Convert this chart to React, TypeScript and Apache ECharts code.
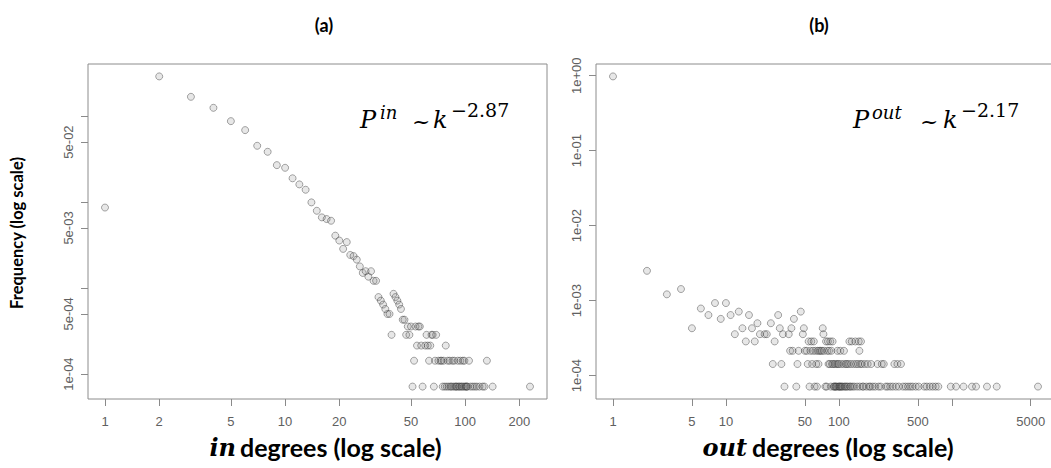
import React, { useEffect, useRef } from "react";
import * as echarts from "echarts";

// Number of nodes used to turn counts into frequencies
const TOTAL_NODES = 14000;

// (a) in-degree k, number of nodes with that in-degree
const IN_DEGREE_COUNTS: [number, number][] = [
  [1, 121], [2, 4060], [3, 2350], [4, 1750], [5, 1225], [6, 963], [7, 633], [8, 539], [9, 377], [10, 351],
  [11, 265], [12, 225], [13, 195], [14, 139], [15, 111], [16, 93], [17, 89], [18, 85], [19, 57], [20, 50],
  [21, 40], [22, 48], [23, 34], [24, 33], [25, 30], [26, 25], [27, 21], [28, 22], [29, 19], [30, 22],
  [31, 17], [32, 17], [33, 11], [34, 10], [35, 9], [36, 8], [37, 7], [38, 7], [39, 4], [40, 12],
  [41, 11], [42, 10], [43, 9], [44, 8], [45, 6], [46, 6], [47, 4], [48, 5], [49, 4], [50, 5],
  [51, 1], [52, 2], [53, 5], [54, 3], [55, 5], [56, 5], [57, 3], [58, 1], [60, 3], [61, 4],
  [62, 3], [63, 2], [64, 3], [65, 4], [66, 4], [67, 1], [68, 2], [69, 4], [71, 2], [73, 2],
  [74, 2], [75, 1], [76, 2], [77, 1], [78, 3], [79, 1], [80, 2], [81, 1], [82, 2], [83, 1],
  [84, 1], [85, 2], [86, 1], [87, 2], [88, 1], [89, 1], [90, 1], [91, 2], [92, 1], [93, 1],
  [94, 2], [95, 1], [96, 1], [97, 2], [98, 1], [99, 2], [100, 1], [101, 1], [102, 1], [103, 1],
  [105, 2], [107, 1], [110, 1], [113, 1], [116, 1], [120, 1], [125, 1], [128, 1], [132, 2], [142, 1],
  [229, 1],
];

// (b) out-degree k, number of nodes with that out-degree
const OUT_DEGREE_COUNTS: [number, number][] = [
  [1, 13700], [2, 35], [3, 17], [4, 20], [5, 6], [6, 11], [7, 9], [8, 13], [9, 8], [10, 13],
  [11, 9], [12, 5], [13, 10], [14, 6], [15, 4], [16, 9], [17, 6], [18, 4], [19, 7], [20, 5],
  [22, 5], [23, 5], [25, 7], [26, 2], [27, 4], [29, 9], [30, 6], [31, 2], [32, 5], [33, 1],
  [36, 5], [37, 3], [38, 6], [39, 3], [40, 8], [42, 1], [43, 2], [44, 3], [46, 10], [48, 5],
  [49, 6], [50, 3], [52, 3], [53, 2], [54, 4], [55, 1], [56, 3], [57, 4], [58, 2], [59, 3],
  [60, 4], [61, 1], [62, 3], [63, 2], [64, 1], [65, 3], [66, 2], [67, 3], [69, 3], [71, 3],
  [72, 6], [73, 5], [74, 3], [76, 1], [77, 4], [78, 1], [79, 3], [80, 4], [81, 2], [82, 3],
  [83, 2], [84, 4], [85, 1], [86, 3], [87, 2], [88, 4], [89, 2], [90, 1], [91, 1], [92, 2],
  [93, 1], [94, 1], [95, 2], [96, 1], [97, 3], [98, 2], [99, 1], [100, 2], [101, 1], [102, 1],
  [103, 3], [104, 1], [105, 2], [106, 1], [108, 1], [110, 2], [111, 3], [112, 1], [114, 1], [115, 2],
  [117, 1], [118, 2], [120, 1], [122, 2], [124, 4], [125, 1], [127, 1], [128, 2], [130, 4], [132, 1],
  [135, 2], [137, 1], [140, 4], [142, 2], [145, 1], [148, 2], [150, 4], [152, 3], [153, 1], [155, 2],
  [157, 4], [160, 2], [162, 1], [165, 1], [170, 2], [175, 1], [180, 2], [185, 1], [190, 1], [193, 2],
  [200, 1], [210, 1], [220, 2], [225, 1], [235, 1], [240, 2], [250, 2], [260, 1], [270, 1], [285, 1],
  [300, 1], [310, 2], [320, 1], [330, 2], [340, 1], [355, 2], [370, 1], [390, 1], [410, 1], [430, 1],
  [450, 1], [480, 1], [510, 1], [570, 1], [600, 1], [640, 1], [680, 1], [720, 1], [760, 1], [980, 1],
  [1090, 1], [1270, 1], [1510, 1], [1640, 1], [2050, 1], [2500, 1], [5800, 1],
];

// Axis ticks and labels (R-style log axes)
const IN_X_TICKS = [1, 2, 5, 10, 20, 50, 100, 200];
const IN_X_LABELS = [1, 2, 5, 10, 20, 50, 100, 200];
const OUT_X_TICKS = [1, 5, 10, 50, 100, 500, 1000, 5000];
const OUT_X_LABELS = [1, 5, 10, 50, 100, 500, 5000];
const IN_Y_TICKS = [1e-4, 5e-4, 1e-3, 5e-3, 1e-2, 5e-2, 1e-1];
const IN_Y_LABELS = ["1e-04", "5e-04", "5e-03", "5e-02"];
const OUT_Y_TICKS = [1e-4, 1e-3, 1e-2, 1e-1, 1];
const OUT_Y_LABELS = ["1e-04", "1e-03", "1e-02", "1e-01", "1e+00"];

const PANEL_TITLES = ["(a)", "(b)"];
const Y_TITLE = "Frequency (log scale)";
const X_TITLE_REST = "degrees (log scale)";
const X_TITLE_VARS = ["in", "out"];
const EXPONENTS = ["\u22122.87", "\u22122.17"];

function logRange(values: number[]): [number, number] {
  const logs = values.map((v) => Math.log10(v));
  const lo = Math.min(...logs);
  const hi = Math.max(...logs);
  const pad = (hi - lo) * 0.04;
  return [lo - pad, hi + pad];
}

const TICK_COLOR = "#8a8a8a";
const LABEL_COLOR = "#606060";

function tickAxis(
  gridIndex: number,
  range: [number, number],
  ticks: number[],
  labelVals: number[],
  labelText: string[],
  isY: boolean
) {
  const logLabels = labelVals.map((v) => Math.log10(v));
  return {
    type: "value",
    gridIndex,
    position: isY ? "left" : "bottom",
    min: range[0],
    max: range[1],
    axisLine: { show: false },
    splitLine: { show: false },
    axisTick: {
      show: true,
      length: 7,
      inside: false,
      lineStyle: { color: TICK_COLOR, width: 1 },
      customValues: ticks.map((v) => Math.log10(v)),
    },
    axisLabel: {
      customValues: logLabels,
      rotate: isY ? 90 : 0,
      margin: isY ? 13 : 16,
      color: LABEL_COLOR,
      fontFamily: "Liberation Sans",
      fontSize: 13,
      formatter: (v: number) => {
        let best = 0;
        let bd = Infinity;
        logLabels.forEach((l, i) => {
          const d = Math.abs(l - v);
          if (d < bd) {
            bd = d;
            best = i;
          }
        });
        return labelText[best];
      },
    },
  };
}

function text(x: number, y: number, str: string, font: any, extra: any = {}) {
  const align = extra.align || "left";
  return {
    type: "text",
    x,
    y,
    rotation: extra.rotation || 0,
    silent: true,
    style: {
      text: str,
      fill: extra.fill || "#000",
      fontFamily: font.family,
      fontSize: font.size,
      fontWeight: font.weight || "normal",
      fontStyle: font.style || "normal",
      align,
      textAlign: align,
      verticalAlign: "middle",
      textVerticalAlign: "middle",
    },
  };
}

function buildOption() {
  const inPts = IN_DEGREE_COUNTS.map(([k, c]) => [k, c / TOTAL_NODES]);
  const outPts = OUT_DEGREE_COUNTS.map(([k, c]) => [k, c / TOTAL_NODES]);
  const inX = logRange(inPts.map((p) => p[0]));
  const inY = logRange(inPts.map((p) => p[1]));
  const outX = logRange(outPts.map((p) => p[0]));
  const outY = logRange(outPts.map((p) => p[1]));

  const grid = (left: number) => ({
    left,
    top: 64,
    width: 459,
    height: 335,
    show: true,
    borderColor: "#8c8c8c",
    borderWidth: 1,
    backgroundColor: "transparent",
    containLabel: false,
    outerBoundsMode: "none",
  });

  const logAxis = (gridIndex: number, r: [number, number], isY: boolean) => ({
    type: "log",
    logBase: 10,
    gridIndex,
    position: isY ? "left" : "bottom",
    min: Math.pow(10, r[0]),
    max: Math.pow(10, r[1]),
    show: false,
  });

  const scatterStyle = {
    color: "rgba(120,120,120,0.22)",
    borderColor: "rgba(40,40,40,0.5)",
    borderWidth: 1,
  };

  const serif = "DejaVu Serif";
  const sans = "Lato";

  const graphic: any[] = [
    text(324, 25, PANEL_TITLES[0], { family: sans, size: 18, weight: "bold" }, { align: "center" }),
    text(819, 25, PANEL_TITLES[1], { family: sans, size: 18, weight: "bold" }, { align: "center" }),
    text(17, 233, Y_TITLE, { family: sans, size: 16.5, weight: "bold" }, { align: "center", rotation: Math.PI / 2 }),
    text(236, 447, X_TITLE_VARS[0], { family: serif, size: 24, weight: "bold", style: "italic" }, { align: "right" }),
    text(240, 447, X_TITLE_REST, { family: sans, size: 25, weight: "bold" }),
    text(747, 447, X_TITLE_VARS[1], { family: serif, size: 24, weight: "bold", style: "italic" }, { align: "right" }),
    text(752, 447, X_TITLE_REST, { family: sans, size: 25, weight: "bold" }),
    // formula (a)
    text(360, 120, "P", { family: serif, size: 24, style: "italic" }),
    text(380, 112, "in", { family: serif, size: 18, style: "italic" }),
    text(412, 121, "~", { family: serif, size: 22 }),
    text(433, 120, "k", { family: serif, size: 24, style: "italic" }),
    text(451, 110, EXPONENTS[0], { family: serif, size: 19 }),
    // formula (b)
    text(853, 120, "P", { family: serif, size: 24, style: "italic" }),
    text(872, 112, "out", { family: serif, size: 18, style: "italic" }),
    text(920, 121, "~", { family: serif, size: 22 }),
    text(943, 120, "k", { family: serif, size: 24, style: "italic" }),
    text(961, 110, EXPONENTS[1], { family: serif, size: 19 }),
  ];

  return {
    animation: false,
    backgroundColor: "#ffffff",
    grid: [grid(88), grid(596)],
    xAxis: [
      logAxis(0, inX, false),
      logAxis(1, outX, false),
      tickAxis(0, inX, IN_X_TICKS, IN_X_LABELS, IN_X_LABELS.map(String), false),
      tickAxis(1, outX, OUT_X_TICKS, OUT_X_LABELS, OUT_X_LABELS.map(String), false),
    ],
    yAxis: [
      logAxis(0, inY, true),
      logAxis(1, outY, true),
      tickAxis(0, inY, IN_Y_TICKS, IN_Y_LABELS.map(parseFloat), IN_Y_LABELS, true),
      tickAxis(1, outY, OUT_Y_TICKS, OUT_Y_LABELS.map(parseFloat), OUT_Y_LABELS, true),
    ],
    series: [
      {
        type: "scatter",
        xAxisIndex: 0,
        yAxisIndex: 0,
        data: inPts,
        symbol: "circle",
        symbolSize: 7,
        itemStyle: scatterStyle,
        silent: true,
      },
      {
        type: "scatter",
        xAxisIndex: 1,
        yAxisIndex: 1,
        data: outPts,
        symbol: "circle",
        symbolSize: 7,
        itemStyle: scatterStyle,
        silent: true,
      },
    ],
    graphic,
  };
}

export default function App() {
  const ref = useRef<HTMLDivElement>(null);
  useEffect(() => {
    if (!ref.current) return;
    const chart = echarts.init(ref.current, null, { renderer: "svg" });
    chart.setOption(buildOption() as any);
    return () => chart.dispose();
  }, []);
  return (
    <div
      ref={ref}
      style={{ position: "absolute", left: 0, top: 0, width: 1051, height: 468, background: "#fff" }}
    />
  );
}
